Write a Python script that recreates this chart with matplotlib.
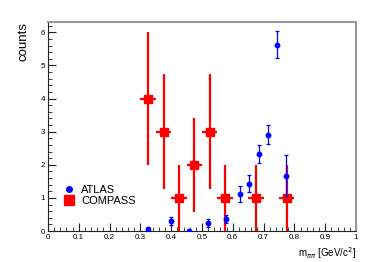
import numpy as np
import matplotlib
matplotlib.use("Agg")
import matplotlib.pyplot as plt
from matplotlib.lines import Line2D
from matplotlib.ticker import MultipleLocator, FixedFormatter, FixedLocator

plt.rcParams['font.family'] = ['Liberation Sans', 'DejaVu Sans']

# ATLAS points
atlas_x = [0.324, 0.398, 0.458, 0.518, 0.579, 0.624, 0.654, 0.684, 0.714, 0.745, 0.774]
atlas_y = [0.05, 0.31, 0.0, 0.24, 0.35, 1.12, 1.43, 2.33, 2.91, 5.63, 1.67]
atlas_err = [0.05, 0.12, 0.02, 0.12, 0.12, 0.25, 0.25, 0.28, 0.28, 0.41, 0.62]

# COMPASS bins
compass_x = [0.325, 0.375, 0.425, 0.475, 0.525, 0.575, 0.675, 0.775]
compass_y = [4, 3, 1, 2, 3, 1, 1, 1]
compass_err = [2.0, 1.74, 1.0, 1.42, 1.74, 1.0, 1.0, 1.0]
compass_xerr = 0.025

x_ticks = [0, 0.1, 0.2, 0.3, 0.4, 0.5, 0.6, 0.7, 0.8, 0.9, 1]
x_ticklabels = ['0', '0.1', '0.2', '0.3', '0.4', '0.5', '0.6', '0.7', '0.8', '0.9', '1']

fig = plt.figure(figsize=(3.85, 2.62), dpi=100)
ax = fig.add_axes([48/385, 1-231/262, 308/385, 209/262])

ax.errorbar(compass_x, compass_y, yerr=compass_err, xerr=compass_xerr, fmt='s',
            color='#ff0000', markersize=6.3, elinewidth=1.6, capsize=0, zorder=2)
ax.errorbar(atlas_x, atlas_y, yerr=atlas_err, fmt='o', color='#0000ff',
            markersize=3.2, elinewidth=0.9, capsize=1.5, capthick=0.9, zorder=3)

ax.set_xlim(0, 1)
ax.set_ylim(0, 6.31)
ax.xaxis.set_major_locator(FixedLocator(x_ticks))
ax.xaxis.set_major_formatter(FixedFormatter(x_ticklabels))
ax.xaxis.set_minor_locator(MultipleLocator(0.02))
ax.yaxis.set_major_locator(MultipleLocator(1))
ax.yaxis.set_minor_locator(MultipleLocator(0.2))
ax.tick_params(which='both', direction='in', labelsize=5.8, color='#222222',
               top=False, right=False)
ax.tick_params(which='major', length=6, width=0.8, pad=2)
ax.tick_params(which='minor', length=3, width=0.6)

for s in ['top', 'right']:
    ax.spines[s].set_color('#999999')
    ax.spines[s].set_linewidth(1.5)
for s in ['left', 'bottom']:
    ax.spines[s].set_color('#222222')
    ax.spines[s].set_linewidth(0.8)

ax.set_ylabel('counts', fontsize=9.5, loc='top', labelpad=8)
ax.set_xlabel(r'm$_{\pi\pi}$ [GeV/c$^{2}$]', fontsize=7, loc='right', labelpad=3)

handles = [Line2D([], [], marker='o', color='#0000ff', linestyle='none', markersize=4),
           Line2D([], [], marker='s', color='#ff0000', linestyle='none', markersize=7)]
ax.legend(handles, ['ATLAS', 'COMPASS'], loc='lower left', bbox_to_anchor=(0.035, 0.1),
          frameon=False, fontsize=8, handlelength=1.0, handletextpad=0.6,
          labelspacing=0.1, borderaxespad=0)

fig.savefig('out.png', dpi=100)
